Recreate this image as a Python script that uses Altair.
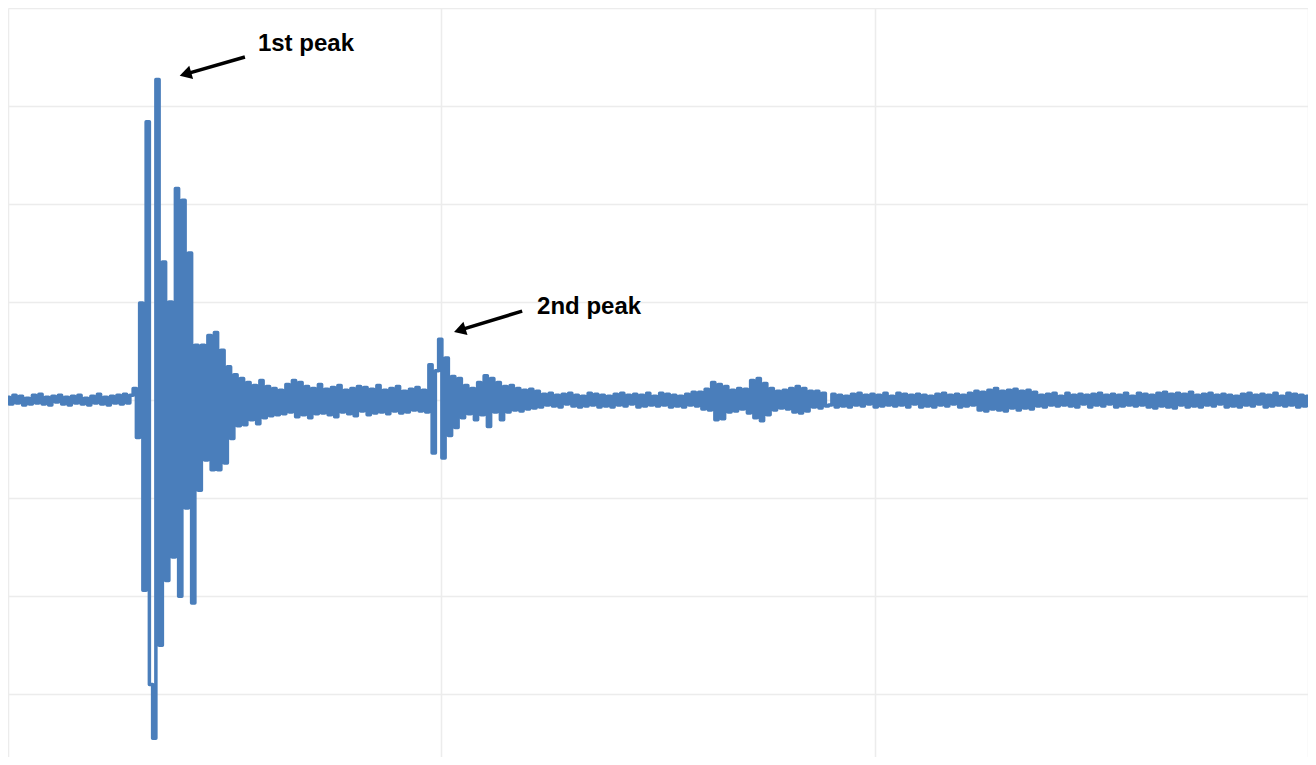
import altair as alt
import pandas as pd

# ---- signal amplitude (100 units = one grid step), one value per sample ----
pre_event = [3, -4, 5, -3, 4, -5, 2, -4, 5, -3,
             6, -4, 3, -5, 4, -2, 5, -4, 3, -5,
             4, -3, 5, -4, 2, -5, 4, -3, 6, -4,
             3, -5, 4, -3, 5, -4, 6, -3, 5, 12]
first_peak = [-38, 99, -194, 284, -290, -345, 327, -250, 141, -184,
              100, -160, 216, -200, 204, -110, 150, -207, 56, -92,
              56, -61, 66, -71, 69, -71, 51, -64, 34, -39,
              26, -26]
coda_1 = [22, -25, 18, -20, 15, -24, 20, -18, 14, -16,
          12, -15, 10, -14, 16, -12, 20, -17, 18, -15,
          14, -18, 12, -14, 16, -13, 11, -15, 13, -17,
          15, -12, 10, -14, 12, -16, 14, -11, 13, -15,
          11, -13, 15, -12, 10, -14, 12, -11, 14, -13,
          9, -12, 11, -10, 13, -11]
second_peak = [10, -12, 36, -54, 30, 62, -59, 43, -36, 24, -28, 22]
coda_2 = [-18, 15, -14, 12, -20, 18, -15, 25, -27, 22,
          -12, 18, -20, 14, -12, 15, -10, 12, -11, 10,
          -9, 11, -8, 9]
quiet = [-7, 6, -5, 7, -6, 5, -7, 6, -4, 7,
         -6, 5, -7, 4, -6, 7, -5, 6, -7, 5,
         -6, 4, -7, 6, -5, 7, -6, 5, -4, 6,
         -7, 5, -6, 7, -5, 4, -6, 7, -5, 6,
         -7, 5, -6, 4, -7, 6, -5, 8, -6]
third_burst = [8, -9, 11, -10, 18, -20, 16, -19, 14, -12,
               10, -11, 12, -9, 11, -13, 20, -18, 22, -21,
               17, -15, 12, -10, 9, -8, 10, -9, 12, -12,
               14, -13, 12, -11, 9, -7, 9, -8, 7, -6]
tail = [-5, 6, -7, 5, -6, 4, -7, 6, -5, 7,
        -6, 5, -4, 6, -7, 5, -6, 7, -5, 4,
        -6, 7, -5, 6, -7, 5, -4, 6, -7, 5,
        -6, 4, -7, 6, -5, 7, -6, 5, -4, 6,
        -7, 5, -6, 7, -5,
        9, -10, 8, -11, 10, -9, 12, -10, 9, -11,
        10, -8, 11, -10, 9, -8, 10, -9, 8,
        -6, 5, -7, 6, -5, 7, -6, 4, -5, 7,
        -6, 5, -7, 6, -4, 5, -7, 6, -5, 7,
        -6, 5, -4, 6, -7, 5, -6, 7, -5, 4,
        -6, 7, -5, 6, -7, 5, -8, 7, -6, 8,
        -7, 6, -8, 7, -5, 6, -7, 8, -6, 5,
        -7, 6, -5, 7, -6, 5, -4, 6, -7, 5,
        -6, 4, -7, 6, -5, 7, -6, 5, -4, 6,
        -7, 5, -6, 7, -5, 4, -6, 7, -5, 6,
        -7, 5, -6, 4]

amplitude = pre_event + first_peak + coda_1 + second_peak + coda_2 + quiet + third_burst + tail
sample = list(range(len(amplitude)))

# ---- grid ----
x_grid = [0, 133.33, 266.67, 400]
y_grid = [-300, -200, -100, 0, 100, 200, 300, 400]

# ---- annotations ----
label_text = ["1st peak", "2nd peak"]
label_x = [76.9, 162.8]
label_y = [363.3, 94.9]
arrow_x_from = [72.9, 158.2]
arrow_y_from = [350.0, 90.8]
arrow_x_to = [54.6, 139.0]
arrow_y_to = [332.6, 71.4]
arrow_angle = [254, 253]

signal = pd.DataFrame({"sample": sample, "amplitude": amplitude})
labels = pd.DataFrame({"text": label_text, "x": label_x, "y": label_y})
arrows = pd.DataFrame({"x": arrow_x_from, "y": arrow_y_from,
                       "x2": arrow_x_to, "y2": arrow_y_to, "angle": arrow_angle})

x_scale = alt.Scale(domain=[0, 400], nice=False, zero=False)
y_scale = alt.Scale(domain=[-364, 400], nice=False, zero=False)

x_axis = alt.Axis(values=x_grid, labels=False, ticks=False, domain=False, grid=True,
                  gridColor="#ececec", gridWidth=1.5, title="")
y_axis = alt.Axis(values=y_grid, labels=False, ticks=False, domain=False, grid=True,
                  gridColor="#ececec", gridWidth=1.5, title="")

line = alt.Chart(signal).mark_line(interpolate="step", color="#4a7ebb", strokeWidth=3.5,
                                   strokeJoin="round").encode(
    x=alt.X("sample:Q", scale=x_scale, axis=x_axis),
    y=alt.Y("amplitude:Q", scale=y_scale, axis=y_axis),
)

shafts = alt.Chart(arrows).mark_rule(color="black", strokeWidth=3.5).encode(
    x=alt.X("x:Q", scale=x_scale), y=alt.Y("y:Q", scale=y_scale),
    x2="x2:Q", y2="y2:Q",
)

heads = alt.Chart(arrows).mark_point(shape="triangle-up", filled=True, color="black",
                                     size=190, opacity=1).encode(
    x=alt.X("x2:Q", scale=x_scale), y=alt.Y("y2:Q", scale=y_scale),
    angle=alt.Angle("angle:Q", scale=None),
)

texts = alt.Chart(labels).mark_text(align="left", baseline="middle", font="Liberation Sans",
                                    fontWeight="bold", fontSize=24, color="#000000").encode(
    x=alt.X("x:Q", scale=x_scale), y=alt.Y("y:Q", scale=y_scale), text="text:N",
)

chart = alt.layer(line, shafts, heads, texts).properties(
    width=1300, height=749,
    autosize=alt.AutoSizeParams(type="none"),
    padding=0,
).configure_view(strokeWidth=0)

chart.save("out.html", embed_options={"renderer": "svg", "actions": False})
